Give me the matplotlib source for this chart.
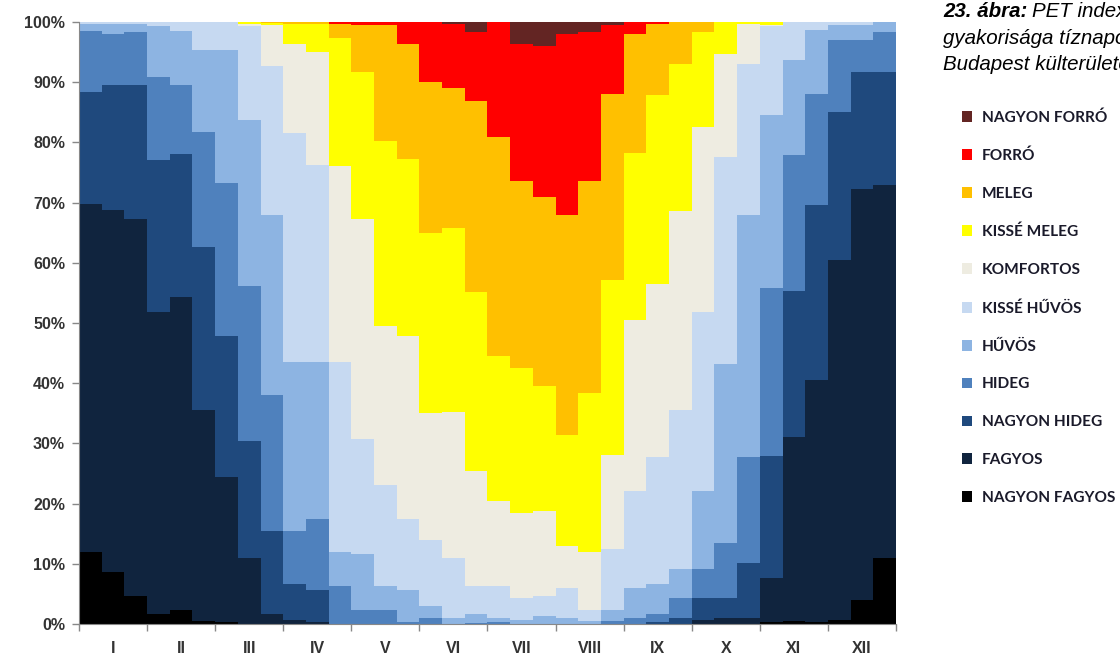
import numpy as np
import matplotlib
matplotlib.use('Agg')
import matplotlib.pyplot as plt
from matplotlib.patches import Patch

months = ['I', 'II', 'III', 'IV', 'V', 'VI', 'VII', 'VIII', 'IX', 'X', 'XI', 'XII']

# classes from bottom to top
classes = ['NAGYON FAGYOS', 'FAGYOS', 'NAGYON HIDEG', 'HIDEG', 'HŰVÖS', 'KISSÉ HŰVÖS',
           'KOMFORTOS', 'KISSÉ MELEG', 'MELEG', 'FORRÓ', 'NAGYON FORRÓ']
colors = ['#000000', '#10243e', '#1f497d', '#4f81bd', '#8db4e2', '#c6d9f1',
          '#eeece1', '#ffff00', '#ffc000', '#ff0000', '#632523']

# upper edge (%) of each class in the 36 ten-day periods
top_nagyon_fagyos = [11.9, 8.6, 4.6, 1.7, 2.3, 0.5, 0.3, 0, 0, 0, 0, 0,
                     0, 0, 0, 0, 0, 0, 0, 0, 0, 0, 0, 0,
                     0, 0, 0, 0, 0, 0, 0.3, 0.5, 0.3, 0.7, 4.0, 10.9]
top_fagyos = [69.8, 68.8, 67.3, 51.8, 54.3, 35.6, 24.4, 10.9, 1.7, 0.7, 0.3, 0,
              0, 0, 0, 0, 0, 0, 0, 0, 0, 0, 0, 0,
              0, 0, 0, 0.7, 1.0, 1.0, 7.6, 31.0, 40.6, 60.4, 72.3, 72.9]
top_nagyon_hideg = [88.3, 89.6, 89.6, 77.0, 78.0, 62.7, 47.9, 30.4, 15.5, 6.6, 5.6, 0,
                    0, 0, 0, 0, 0, 0, 0, 0, 0, 0, 0, 0,
                    0, 0.3, 1.0, 4.3, 4.3, 10.2, 27.9, 55.4, 69.6, 85.1, 91.7, 91.7]
top_hideg = [98.5, 98.0, 98.3, 90.8, 89.6, 81.8, 73.3, 56.1, 38.0, 15.5, 17.5, 6.3,
             2.3, 2.3, 0.3, 1.0, 0, 0.2, 0.3, 0, 0, 0, 0, 0.5,
             1.0, 1.7, 4.3, 9.2, 13.5, 27.7, 55.8, 77.9, 88.1, 97.0, 97.0, 98.3]
top_huvos = [99.7, 99.7, 99.7, 99.3, 98.5, 95.4, 95.4, 83.8, 68.0, 43.6, 43.6, 11.9,
             11.6, 6.3, 5.6, 3.0, 1.0, 1.7, 1.0, 0.7, 1.3, 1.0, 0.5, 2.3,
             6.0, 6.6, 9.2, 22.1, 43.2, 68.0, 84.5, 93.7, 98.7, 99.5, 99.5, 100]
top_kisse_huvos = [100, 100, 100, 100, 100, 100, 100, 99.3, 92.7, 81.5, 76.2, 43.6,
                   30.7, 23.1, 17.5, 13.9, 10.9, 6.3, 6.3, 4.3, 4.6, 5.9, 2.3, 12.5,
                   22.1, 27.7, 35.6, 51.8, 77.6, 93.1, 99.3, 100, 100, 100, 100, 100]
top_komfortos = [100, 100, 100, 100, 100, 100, 100, 99.7, 99.5, 96.4, 95.0, 76.0,
                 67.3, 49.5, 47.9, 35.0, 35.3, 25.4, 20.5, 18.5, 18.8, 12.9, 11.9, 28.1,
                 50.5, 56.4, 68.6, 82.5, 94.7, 99.7, 99.5, 100, 100, 100, 100, 100]
top_kisse_meleg = [100, 100, 100, 100, 100, 100, 100, 100, 99.8, 99.7, 99.7, 97.4,
                   91.7, 80.2, 77.2, 65.0, 65.7, 55.1, 44.6, 42.6, 39.6, 31.4, 38.3, 57.1,
                   78.2, 87.8, 93.1, 98.3, 100, 100, 100, 100, 100, 100, 100, 100]
top_meleg = [100, 100, 100, 100, 100, 100, 100, 100, 100, 100, 100, 99.7,
             99.5, 99.5, 96.4, 90.1, 89.1, 86.8, 80.9, 73.6, 71.0, 68.0, 73.6, 88.1,
             98.0, 99.7, 100, 100, 100, 100, 100, 100, 100, 100, 100, 100]
top_forro = [100, 100, 100, 100, 100, 100, 100, 100, 100, 100, 100, 100,
             100, 100, 100, 100, 99.7, 98.3, 100, 96.4, 96.0, 98.0, 98.3, 99.5,
             100, 100, 100, 100, 100, 100, 100, 100, 100, 100, 100, 100]

tops = np.array([top_nagyon_fagyos, top_fagyos, top_nagyon_hideg, top_hideg, top_huvos,
                 top_kisse_huvos, top_komfortos, top_kisse_meleg, top_meleg, top_forro,
                 [100] * 36])
bottoms = np.vstack([np.zeros(36), tops[:-1]])

fig = plt.figure(figsize=(11.2, 6.59), dpi=100)
ax = fig.add_axes([0.0705, 0.0531, 0.7295, 0.9135])

x = np.arange(36)
for k in range(len(classes)):
    h = tops[k] - bottoms[k]
    m = h > 0
    ax.bar(x[m], h[m], bottom=bottoms[k][m], width=1.0, align='edge',
           color=colors[k], linewidth=0, antialiased=False)

ax.set_xlim(0, 36)
ax.set_ylim(0, 100)
ax.set_yticks(np.arange(0, 101, 10))
ax.set_yticklabels(['%d%%' % v for v in range(0, 101, 10)],
                   fontsize=11.5, fontweight='bold', family='Liberation Sans', color='#333333')
ax.set_xticks(np.arange(0, 37, 3))
ax.set_xticklabels([])
ax.set_xticks(np.arange(1.5, 36, 3), minor=True)
ax.set_xticklabels(months, minor=True, fontsize=11.5, fontweight='bold',
                   family='Liberation Sans', color='#333333')
ax.tick_params(axis='x', which='minor', length=0, pad=12)
ax.tick_params(axis='both', which='major', length=5, color='#888888', width=1)
ax.tick_params(axis='y', pad=5)
for s in ['top', 'right']:
    ax.spines[s].set_visible(False)
for s in ['left', 'bottom']:
    ax.spines[s].set_color('#888888')

# legend, top class first
handles = [Patch(facecolor=colors[k], edgecolor='none') for k in range(len(classes) - 1, -1, -1)]
labels = [classes[k] for k in range(len(classes) - 1, -1, -1)]
fig.legend(handles, labels, loc='upper left', bbox_to_anchor=(0.8462, 0.854),
           frameon=False, handlelength=0.7, handleheight=0.7, handletextpad=0.6,
           labelspacing=1.55, prop={'family': 'Lato', 'weight': 'bold', 'size': 11.1},
           labelcolor='#1a1a2a')

# caption (runs past the right edge as in the source)
fs = 14.8
x0 = 943 / 1120
t1 = fig.text(x0, 1 - 17 / 659, '23. ábra:', fontsize=fs, family='Liberation Sans',
              fontweight='bold', style='italic', va='baseline')
fig.canvas.draw()
bb = t1.get_window_extent()
fig.text((bb.x1 + 5) / fig.bbox.width, 1 - 17 / 659, 'PET index kategóriáinak',
         fontsize=fs, family='Liberation Sans', style='italic', va='baseline')
fig.text(x0, 1 - 43.5 / 659, 'gyakorisága tíznapos bontásban', fontsize=fs,
         family='Liberation Sans', style='italic', va='baseline')
fig.text(x0, 1 - 70 / 659, 'Budapest külterületén', fontsize=fs,
         family='Liberation Sans', style='italic', va='baseline')

fig.savefig('out.png', dpi=100)
